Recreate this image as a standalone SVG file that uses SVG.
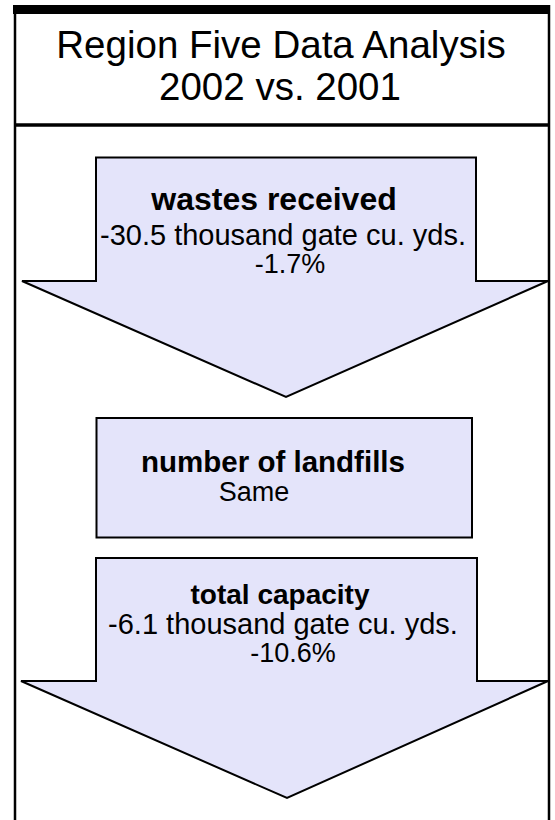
<svg xmlns="http://www.w3.org/2000/svg" width="555" height="820" viewBox="0 0 555 820">
  <style>
    .frame { fill: none; stroke: #000; }
    .shape { fill: #E4E4FA; stroke: #000; stroke-width: 2; stroke-linejoin: miter; }
    .title { font-family: "Liberation Sans", Arial, sans-serif; font-size: 38.5px; fill: #000; text-anchor: middle; }
    .bold { font-family: "Liberation Sans", Arial, sans-serif; font-weight: bold; fill: #000; text-anchor: middle; }
    .reg { font-family: "Liberation Sans", Arial, sans-serif; fill: #000; text-anchor: middle; }
  </style>
  <rect x="0" y="0" width="555" height="820" fill="#fff"/>
  <g id="frame">
    <rect x="13" y="5" width="537" height="9" fill="#000"/>
    <line class="frame" x1="15" y1="5" x2="15" y2="820" stroke-width="2.5"/>
    <line class="frame" x1="549" y1="5" x2="549" y2="820" stroke-width="2.5"/>
    <line class="frame" x1="14" y1="125" x2="550" y2="125" stroke-width="3.5"/>
  </g>
  <g id="title">
    <text class="title" x="281" y="58">Region Five Data Analysis</text>
    <text class="title" x="280" y="100">2002 vs. 2001</text>
  </g>
  <g id="wastes-received">
    <polygon class="shape" points="96,157.5 476,157.5 476,281 548,281 286,397 22,281 96,281"/>
    <text class="bold" x="274" y="210" font-size="32">wastes received</text>
    <text class="reg" x="283" y="245" font-size="29">-30.5 thousand gate cu. yds.</text>
    <text class="reg" x="290" y="273" font-size="27">-1.7%</text>
  </g>
  <g id="number-of-landfills">
    <rect class="shape" x="96.5" y="418" width="375.5" height="119.5"/>
    <text class="bold" x="273" y="472" font-size="29.5">number of landfills</text>
    <text class="reg" x="254" y="501" font-size="27">Same</text>
  </g>
  <g id="total-capacity">
    <polygon class="shape" points="96,558 477,558 477,681 548,681 287,798 21,681 96,681"/>
    <text class="bold" x="280" y="604" font-size="28">total capacity</text>
    <text class="reg" x="283" y="634" font-size="29">-6.1 thousand gate cu. yds.</text>
    <text class="reg" x="293" y="662" font-size="27">-10.6%</text>
  </g>
  <g id="connectors"></g>
</svg>
